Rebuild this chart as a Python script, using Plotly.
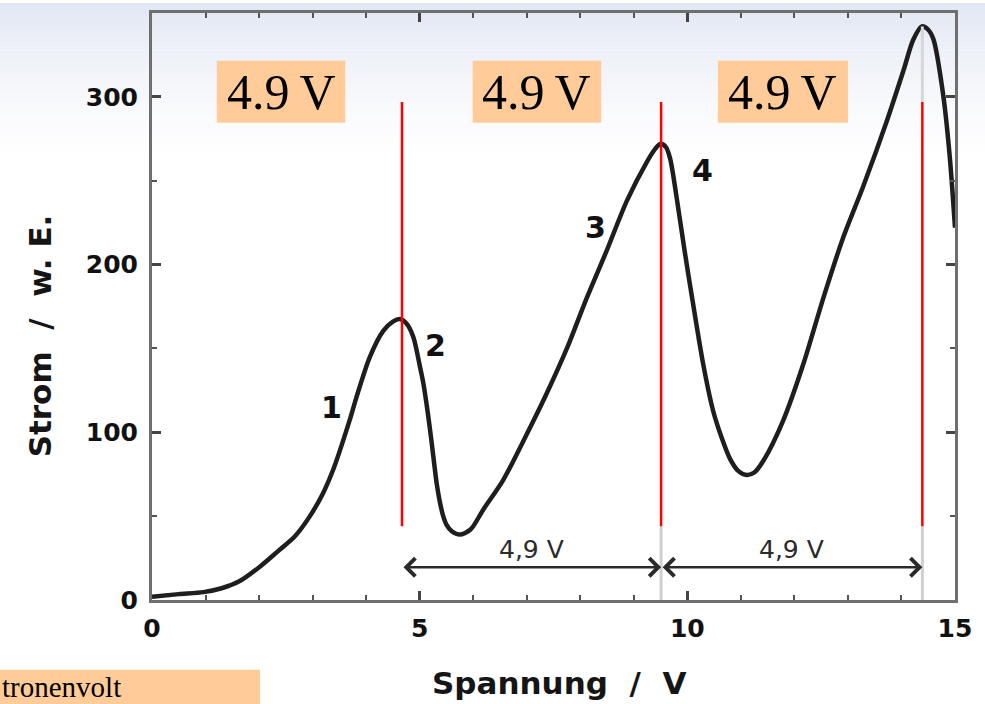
import plotly.graph_objects as go

# ---- data ----
voltage = [0, 0.5, 0.96, 1.3, 1.64, 2.02, 2.35, 2.67, 2.95, 3.2, 3.4, 3.57, 3.7, 3.82,
           4.07, 4.32, 4.5, 4.63, 4.75, 4.88, 5.0, 5.07, 5.15, 5.22, 5.32, 5.38, 5.44, 5.5,
           5.6, 5.75, 5.95, 6.19, 6.56, 6.94, 7.37, 7.75, 8.12, 8.49, 8.87, 9.24, 9.4,
           9.5, 9.6, 9.68, 9.8, 9.95, 10.1, 10.3, 10.48, 10.65, 10.8, 10.95, 11.11, 11.25,
           11.42, 11.79, 12.17, 12.54, 12.91, 13.29, 13.72, 14.04, 14.22, 14.38, 14.5,
           14.6, 14.78, 14.9, 15.0]
current = [2, 3.5, 4.7, 7, 11.3, 20, 29, 38, 50, 64, 79, 95, 108, 121,
           145, 160.5, 166, 167.5, 165, 157, 140, 129, 112, 95, 69, 58, 50, 45,
           41, 39, 42, 54, 71.5, 95, 123, 150, 180, 208, 238, 261, 269,
           272, 270, 263, 240, 208, 178, 140, 113, 96, 84, 77, 74.5, 76,
           83, 107, 141, 180, 216, 247, 285, 316, 334, 342, 340,
           334, 301, 265, 222]

peak_labels = ["1", "2", "3", "4"]
peak_label_x = [3.36, 5.29, 8.28, 10.28]
peak_label_y = [115, 152, 222, 256]

red_line_x = [4.67, 9.51, 14.39]
box_text = ["4.9\u2009V", "4.9\u2009V", "4.9\u2009V"]
box_x0 = [1.21, 5.99, 10.57]
box_x1 = [3.61, 8.39, 13.0]

arrow_x0 = [4.67, 9.51]
arrow_x1 = [9.51, 14.39]
arrow_text = ["4,9 V", "4,9 V"]

x_ticks = [0, 5, 10, 15]
y_ticks = [0, 100, 200, 300]

W, H = 985, 704
L, R, T, B = 152, 30, 10, 104
PW, PH = W - L - R, H - T - B


def px2paper_x(px):
    return (px - L) / PW


def px2paper_y(py):
    return (H - B - py) / PH


fig = go.Figure()

fig.add_trace(go.Scatter(
    x=voltage, y=current, mode="lines",
    line=dict(color="#1e1e1e", width=4.5, shape="spline", smoothing=0.8),
    hoverinfo="skip", showlegend=False))

shapes = []
# background gradient at top of slide
top_rgb = (226, 231, 243)
steps = 40
for i in range(steps):
    py0 = i * 4
    py1 = py0 + 4
    t = (i + 0.5) / steps
    f = (1 - t) ** 1.3
    c = tuple(int(round(255 - (255 - v) * f)) for v in top_rgb)
    shapes.append(dict(type="rect", xref="paper", yref="paper",
                       x0=px2paper_x(0), x1=px2paper_x(W),
                       y0=px2paper_y(py1), y1=px2paper_y(py0),
                       fillcolor="rgb(%d,%d,%d)" % c, line=dict(width=0),
                       layer="below"))

# light gray guide lines from the original scan
for xv in red_line_x[1:]:
    shapes.append(dict(type="line", xref="x", yref="y", x0=xv, x1=xv, y0=0, y1=44,
                       line=dict(color="#cfcfcf", width=3)))
shapes.append(dict(type="line", xref="x", yref="y", x0=red_line_x[2], x1=red_line_x[2],
                   y0=297, y1=342, line=dict(color="#d6d6d6", width=3)))

# red marker lines
for xv in red_line_x:
    shapes.append(dict(type="line", xref="x", yref="y", x0=xv, x1=xv, y0=44, y1=297,
                       line=dict(color="#ff0000", width=2.5)))

# orange boxes
for x0, x1 in zip(box_x0, box_x1):
    shapes.append(dict(type="rect", xref="x", yref="y", x0=x0, x1=x1, y0=284.5, y1=321.5,
                       fillcolor="#FFCC99", line=dict(width=0)))

# bottom-left orange box
shapes.append(dict(type="rect", xref="paper", yref="paper",
                   x0=px2paper_x(0), x1=px2paper_x(260),
                   y0=px2paper_y(H + 5), y1=px2paper_y(670),
                   fillcolor="#FFCC99", line=dict(width=0)))

annotations = []
for txt, x0, x1 in zip(box_text, box_x0, box_x1):
    annotations.append(dict(x=(x0 + x1) / 2, y=303, xref="x", yref="y", text=txt,
                            showarrow=False, xanchor="center", yanchor="middle",
                            font=dict(family="Liberation Serif", size=50, color="black")))

for txt, xv, yv in zip(peak_labels, peak_label_x, peak_label_y):
    annotations.append(dict(x=xv, y=yv, xref="x", yref="y", text="<b>%s</b>" % txt,
                            showarrow=False, xanchor="center", yanchor="middle",
                            font=dict(family="DejaVu Sans", size=30, color="#111111")))

for x0, x1, txt in zip(arrow_x0, arrow_x1, arrow_text):
    annotations.append(dict(x=x1, y=19.5, ax=x0, ay=19.5, xref="x", yref="y",
                            axref="x", ayref="y", text="", showarrow=True,
                            arrowhead=4, startarrowhead=4, arrowside="end+start",
                            arrowsize=1.4, startarrowsize=1.4,
                            arrowwidth=2.5, arrowcolor="#2a2a2a"))
    annotations.append(dict(x=(x0 + x1) / 2, y=30, xref="x", yref="y", text=txt,
                            showarrow=False, xanchor="center", yanchor="middle",
                            font=dict(family="DejaVu Sans", size=25, color="#2a2a2a")))

# axis titles
annotations.append(dict(x=px2paper_x(559), y=px2paper_y(683), xref="paper", yref="paper",
                        text="<b>Spannung  /  V</b>", showarrow=False,
                        xanchor="center", yanchor="middle",
                        font=dict(family="DejaVu Sans", size=31, color="#151515")))
annotations.append(dict(x=px2paper_x(40), y=px2paper_y(335), xref="paper", yref="paper",
                        text="<b>Strom  /  w. E.</b>", showarrow=False, textangle=-90,
                        xanchor="center", yanchor="middle",
                        font=dict(family="DejaVu Sans", size=31, color="#151515")))

annotations.append(dict(x=px2paper_x(0), y=px2paper_y(706), xref="paper", yref="paper",
                        text="tronenvolt", showarrow=False, xanchor="left", yanchor="bottom",
                        font=dict(family="Liberation Serif", size=29, color="black")))

axis_common = dict(showline=True, linecolor="#6f6f6f", linewidth=3, mirror="ticks",
                   ticks="inside", tickcolor="#444444", tickwidth=2.5, ticklen=9,
                   showgrid=False, zeroline=False,
                   tickfont=dict(family="DejaVu Sans", size=25, color="#111111"))

fig.update_layout(
    width=W, height=H,
    margin=dict(l=L, r=R, t=T, b=B),
    paper_bgcolor="white", plot_bgcolor="rgba(0,0,0,0)",
    shapes=shapes, annotations=annotations,
    xaxis=dict(range=[0, 15], tickvals=x_ticks, ticktext=["<b>%d</b>" % v for v in x_ticks],
               ticklabelstandoff=4,
               minor=dict(dtick=1, ticks="inside", ticklen=5, tickwidth=2, tickcolor="#555555"),
               **axis_common),
    yaxis=dict(range=[0, 350], tickvals=y_ticks, ticktext=["<b>%d</b>" % v for v in y_ticks],
               ticklabelstandoff=6,
               minor=dict(dtick=50, ticks="inside", ticklen=5, tickwidth=2, tickcolor="#555555"),
               **axis_common),
)

fig.write_html("out.html", config={"displayModeBar": False},
               post_script="document.body.style.margin='0';")
